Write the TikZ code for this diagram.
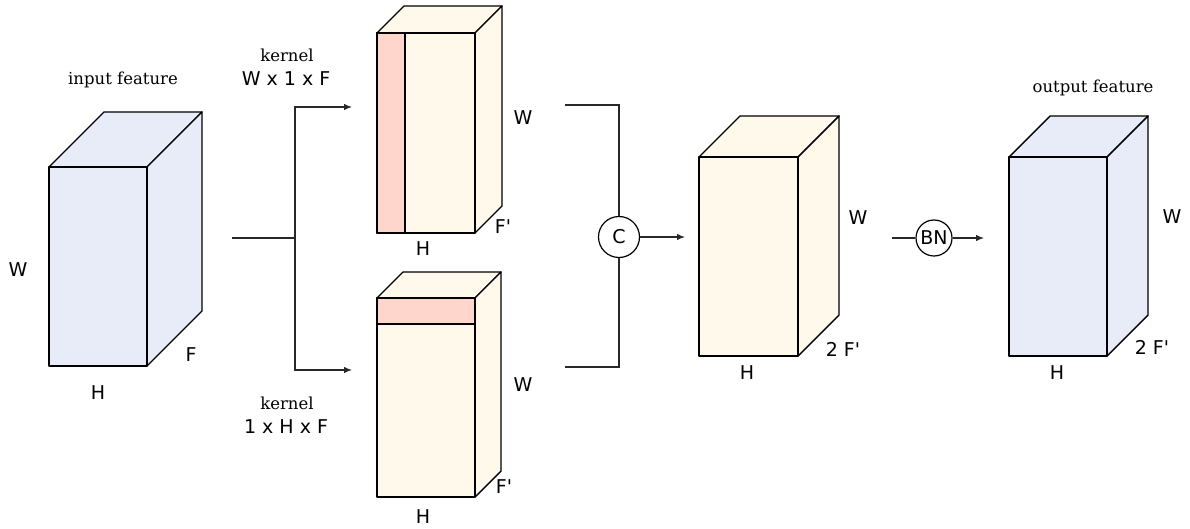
\documentclass[tikz,border=0pt]{standalone}
\usepackage{fontspec}
\setmainfont{DejaVu Serif}
\setsansfont{DejaVu Sans}[Ligatures=TeXOff]
\usetikzlibrary{arrows.meta}
\definecolor{cubeblue}{RGB}{232,236,249}
\definecolor{cubecream}{RGB}{255,249,236}
\definecolor{stripred}{RGB}{255,214,203}
\definecolor{conn}{RGB}{40,40,40}
\newcommand\mycube[6]{%
  \filldraw[cubeline, fill=#6] (#1,#2) -- ++(#5,-#5) -- ++(#3,0) -- ++(-#5,#5) -- cycle;
  \filldraw[cubeline, fill=#6] ({#1+#3},#2) -- ++(#5,-#5) -- ++(0,#4) -- ++(-#5,#5) -- cycle;
  \fill[#6] (#1,#2) rectangle ++(#3,#4);
}
\newcommand\myfront[4]{\draw[cubeline] (#1,#2) rectangle ++(#3,#4);}
\begin{document}
\begin{tikzpicture}[x=1pt,y=-1pt,
  cubeline/.style={draw=black, line width=1.4pt, line join=round},
  conline/.style={draw=conn, line width=1.2pt},
  arr/.style={conline, -{Latex[length=8pt,width=6.5pt]}},
  sanslab/.style={font=\sffamily\fontsize{19}{21}\selectfont, inner sep=0pt},
  seriflab/.style={font=\fontsize{16.5}{19}\selectfont, inner sep=0pt},
  opcirc/.style={circle, draw=black, line width=1.2pt, fill=white, minimum size=#1, inner sep=0pt, font=\sffamily\fontsize{19}{21}\selectfont}]
\useasboundingbox (0,0) rectangle (1190,529);

% input feature cuboid
\mycube{49}{167}{98}{199}{55}{cubeblue}
\myfront{49}{167}{98}{199}
% top middle cuboid
\mycube{377}{33}{98}{200}{27}{cubecream}
\filldraw[cubeline, fill=stripred] (377,33) rectangle (405,233);
\myfront{377}{33}{98}{200}
% bottom middle cuboid
\mycube{377}{298}{98}{199}{26}{cubecream}
\filldraw[cubeline, fill=stripred] (377,298) rectangle (475,324);
\myfront{377}{298}{98}{199}
% concatenated cuboid
\mycube{699}{157}{99}{199}{41}{cubecream}
\myfront{699}{157}{99}{199}
% output cuboid
\mycube{1009}{157}{98}{199}{41}{cubeblue}
\myfront{1009}{157}{98}{199}

% labels
\node[seriflab] (lin) at (123,80) {input feature};
\node[sanslab] (lw1) at (18,270) {W};
\node[sanslab] (lf1) at (191,355) {F};
\node[sanslab] (lh1) at (98,393) {H};
\node[seriflab] (lk1) at (287,55) {kernel};
\node[sanslab] (lk1b) at (286,79) {W x 1 x F};
\node[seriflab] (lk2) at (287,403) {kernel};
\node[sanslab] (lk2b) at (286,427) {1 x H x F};
\node[sanslab] (lw2) at (523,118) {W};
\node[sanslab] (lf2) at (503,227) {F'};
\node[sanslab] (lh2) at (423,249) {H};
\node[sanslab] (lw3) at (523,385) {W};
\node[sanslab] (lf3) at (504,487) {F'};
\node[sanslab] (lh3) at (423,517) {H};
\node[sanslab] (lw4) at (858,218) {W};
\node[sanslab] (lh4) at (747,373) {H};
\node[sanslab] (lf4) at (843,349) {2 F'};
\node[seriflab] (lout) at (1093,88) {output feature};
\node[sanslab] (lw5) at (1172,217) {W};
\node[sanslab] (lh5) at (1057,373) {H};
\node[sanslab] (lf5) at (1152,347) {2 F'};

% operators
\node[opcirc=41pt] (C) at (619,237) {C};
\node[opcirc=36pt] (BN) at (934,238) {BN};

% connector coordinates
\coordinate (src) at (232,238);
\coordinate (split) at (295,238);
\coordinate (ta) at (352,107);
\coordinate (ba) at (352,370);
\coordinate (tout) at (565,105);
\coordinate (bout) at (565,367);
\coordinate (cend) at (685,237);
\coordinate (bnstart) at (892,238);
\coordinate (bnend) at (984,238);

\draw[conline] (src) -- (split);
\draw[arr] (split) |- (ta);
\draw[arr] (split) |- (ba);
\draw[conline] (tout) -| (C.north);
\draw[conline] (bout) -| (C.south);
\draw[arr] (C.east) -- (cend);
\draw[conline] (bnstart) -- (BN.west);
\draw[arr] (BN.east) -- (bnend);
\end{tikzpicture}
\end{document}
